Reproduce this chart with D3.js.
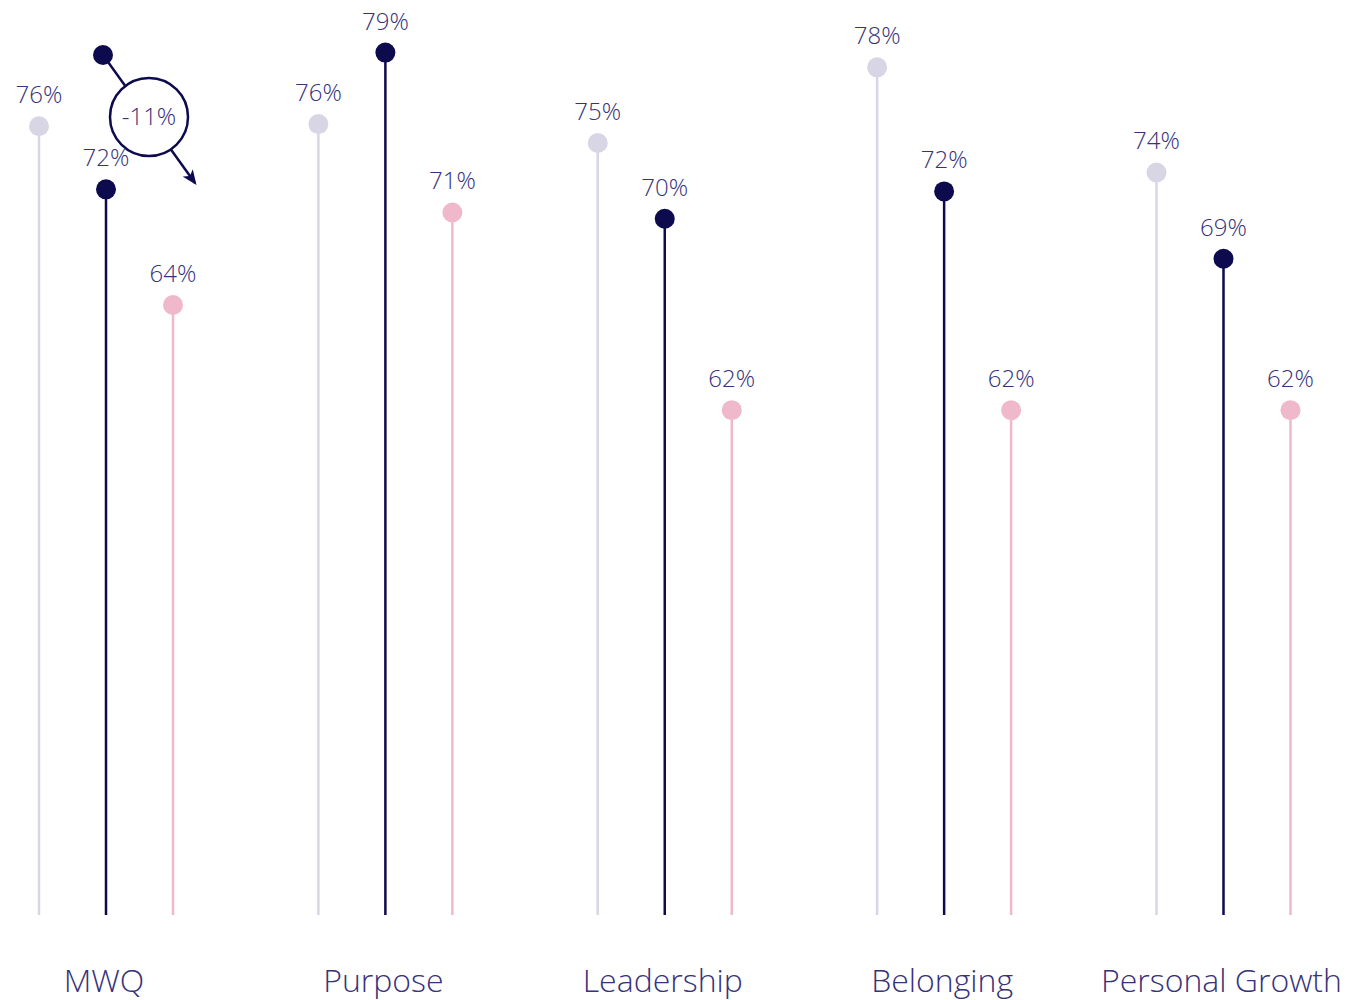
<!DOCTYPE html>
<html>
<head>
<meta charset="utf-8">
<script src="https://cdn.jsdelivr.net/npm/d3@7"></script>
<style>
  body { margin: 0; background: #fff; }
  text { font-family: "Open Sans", sans-serif; font-weight: 300; }
</style>
</head>
<body>
<script>
// categories and series
const categories = ["MWQ", "Purpose", "Leadership", "Belonging", "Personal Growth"];
const series = ["prev", "current", "benchmark"];

// plotted heights (scale units)
const prevValues = [75.5, 75.6, 74.7, 78.3, 73.3];
const currentValues = [72.5, 79.0, 71.1, 72.4, 69.2];
const benchmarkValues = [67.0, 71.4, 62.0, 62.0, 62.0];

// the printed labels
const prevLabels = [76, 76, 75, 78, 74];
const currentLabels = [72, 79, 70, 72, 69];
const benchmarkLabels = [64, 71, 62, 62, 62];

const annotationText = "-11%";

const colors = { prev: "#d8d6e5", current: "#0d0a4e", benchmark: "#f0b9cb" };
const textColor = "#37327a";

const width = 1345, height = 1000;
const baseY = 915;

const svg = d3.select("body").append("svg")
    .attr("width", width)
    .attr("height", height)
    .attr("viewBox", `0 0 ${width} ${height}`);

// scales
const x = d3.scalePoint().domain(categories).range([106, 1223.5]);
const xSub = d3.scalePoint().domain(series).range([-67, 67]);
const y = d3.scaleLinear().domain([38, 81.5]).range([baseY, 0]);

const rows = [];
categories.forEach((c, i) => {
    rows.push({ cat: c, s: "prev", v: prevValues[i], label: prevLabels[i] });
    rows.push({ cat: c, s: "current", v: currentValues[i], label: currentLabels[i] });
    rows.push({ cat: c, s: "benchmark", v: benchmarkValues[i], label: benchmarkLabels[i] });
});

const g = svg.append("g");

// stems
g.selectAll("line.stem")
    .data(rows)
    .join("line")
    .attr("class", "stem")
    .attr("x1", d => x(d.cat) + xSub(d.s))
    .attr("x2", d => x(d.cat) + xSub(d.s))
    .attr("y1", baseY)
    .attr("y2", d => y(d.v))
    .attr("stroke", d => colors[d.s])
    .attr("stroke-width", 2.5);

// dots
g.selectAll("circle.dot")
    .data(rows)
    .join("circle")
    .attr("class", "dot")
    .attr("cx", d => x(d.cat) + xSub(d.s))
    .attr("cy", d => y(d.v))
    .attr("r", 10)
    .attr("fill", d => colors[d.s]);

// value labels
g.selectAll("text.val")
    .data(rows)
    .join("text")
    .attr("class", "val")
    .attr("x", d => x(d.cat) + xSub(d.s))
    .attr("y", d => y(d.v) - 23)
    .attr("text-anchor", "middle")
    .attr("font-size", 24)
    .attr("fill", textColor)
    .text(d => d.label + "%");

// category labels
svg.selectAll("text.cat")
    .data(categories)
    .join("text")
    .attr("class", "cat")
    .attr("x", d => x(d) - 2)
    .attr("y", 992)
    .attr("text-anchor", "middle")
    .attr("font-size", 32)
    .attr("fill", textColor)
    .text(d => d);

// annotation for MWQ change
const defs = svg.append("defs");
defs.append("marker")
    .attr("id", "arrow")
    .attr("viewBox", "0 0 12 10")
    .attr("refX", 10)
    .attr("refY", 5)
    .attr("markerWidth", 6)
    .attr("markerHeight", 5)
    .attr("markerUnits", "strokeWidth")
    .attr("orient", "auto")
    .append("path")
    .attr("d", "M0,0 L12,5 L0,10 L3,5 z")
    .attr("fill", colors.current);

const ax = x("MWQ") - 3, ay = 55;
const cx = ax + 46, cy = 117;
const ex = ax + 92, ey = 183;

const ann = svg.append("g");
ann.append("line")
    .attr("x1", ax).attr("y1", ay)
    .attr("x2", ex).attr("y2", ey)
    .attr("stroke", colors.current)
    .attr("stroke-width", 2.5)
    .attr("marker-end", "url(#arrow)");
ann.append("circle")
    .attr("cx", ax).attr("cy", ay)
    .attr("r", 10)
    .attr("fill", colors.current);
ann.append("circle")
    .attr("cx", cx).attr("cy", cy)
    .attr("r", 39)
    .attr("fill", "#fff")
    .attr("stroke", colors.current)
    .attr("stroke-width", 2.5);
ann.append("text")
    .attr("x", cx)
    .attr("y", cy + 8)
    .attr("text-anchor", "middle")
    .attr("font-size", 24)
    .attr("fill", textColor)
    .text(annotationText);
</script>
</body>
</html>
